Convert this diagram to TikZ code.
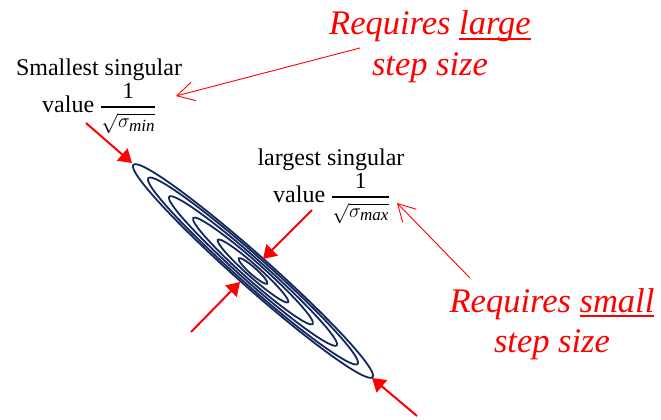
\RequirePackage{fix-cm}
\documentclass[tikz,border=0pt]{standalone}
\usepackage{amsmath}
\usepackage{fontspec}
\setmainfont{Liberation Serif}[ItalicFont={Liberation Serif Italic}]
\usetikzlibrary{arrows.meta}
\definecolor{contourblue}{RGB}{20,40,95}
\definecolor{pptred}{RGB}{255,0,0}
\newcommand{\wordul}[1]{\setbox0=\hbox{#1}\rlap{\vrule height -3pt depth 5pt width \wd0}\box0}
\newcommand{\invsig}[1]{\raisebox{0pt}{\fontsize{20}{20}\selectfont$\genfrac{}{}{1.8pt}{0}{\mbox{\fontsize{23}{23}\selectfont 1}}{\sqrt{\sigma_{\mbox{\fontsize{17}{17}\selectfont\itshape #1}}}}$}}
\begin{document}
\begin{tikzpicture}[x=1pt,y=-1pt,
  ringline/.style={draw=contourblue, line width=1.8pt},
  bigarrow/.style={draw=pptred, line width=2pt, -{Triangle[length=13pt,width=16pt]}},
  thinarrow/.style={draw=pptred, line width=0.9pt, -{Straight Barb[length=17pt,width=19pt]}},
  txt/.style={inner sep=0pt, font=\fontsize{24}{28}\selectfont},
  redtxt/.style={inner sep=0pt, text=pptred, font=\fontsize{34.5}{40}\selectfont\itshape}]
\useasboundingbox (0,0) rectangle (661,420);

% contour ellipses
\foreach \a/\b in {160/16, 140/14, 112/11.5, 80/9, 47/6, 19/3.5}
  \draw[ringline, rotate around={-41.6:(253,271)}] (253,271) ellipse [x radius=\a, y radius=\b];

% labels
\node[txt, anchor=base] (smin1) at (99,75) {Smallest singular};
\node[txt, anchor=base west] (smin2) at (42,112) {value \invsig{min}};
\node[txt, anchor=base] (lmax1) at (331,165) {largest singular};
\node[txt, anchor=base west] (lmax2) at (273,202) {value \invsig{max}};

\node[redtxt, anchor=base] (rl1) at (430,35) {Requires \wordul{large}};
\node[redtxt, anchor=base] (rl2) at (430,75) {step size};
\node[redtxt, anchor=base] (rs1) at (552,312) {Requires \wordul{small}};
\node[redtxt, anchor=base] (rs2) at (552,352) {step size};

% coordinates
\coordinate (a1s) at (86,123);  \coordinate (a1t) at (132,163);
\coordinate (a2s) at (312,210); \coordinate (a2t) at (263,259);
\coordinate (a3s) at (191,332); \coordinate (a3t) at (240,282);
\coordinate (a4s) at (417,416); \coordinate (a4t) at (372,378);
\coordinate (a5s) at (360,48);  \coordinate (a5t) at (176,96);
\coordinate (a6s) at (470,278); \coordinate (a6t) at (397,203);

\draw[bigarrow] (a1s) -- (a1t);
\draw[bigarrow] (a2s) -- (a2t);
\draw[bigarrow] (a3s) -- (a3t);
\draw[bigarrow] (a4s) -- (a4t);
\draw[thinarrow] (a5s) -- (a5t);
\draw[thinarrow] (a6s) -- (a6t);
\end{tikzpicture}
\end{document}
